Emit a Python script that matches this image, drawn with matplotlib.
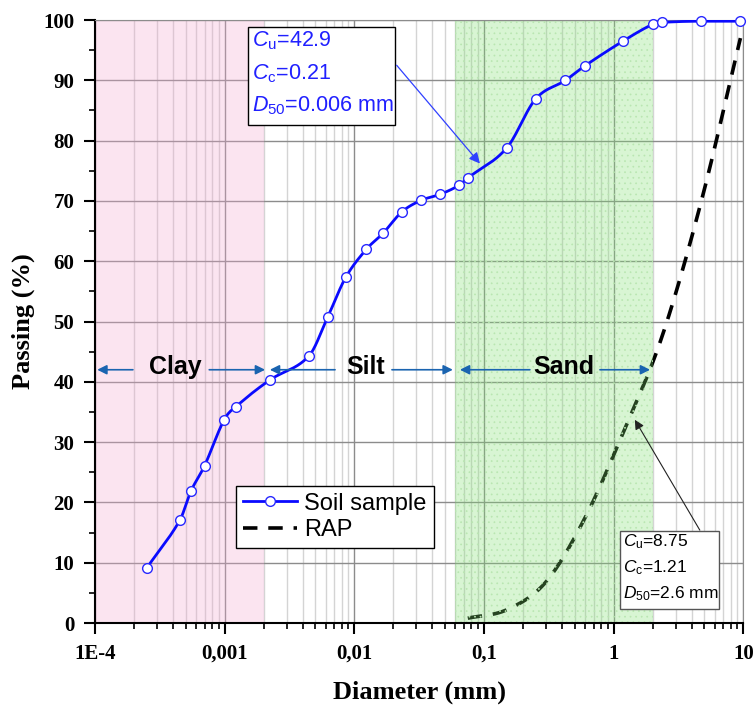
import numpy as np
import matplotlib.pyplot as plt
from matplotlib.patches import Rectangle

# ---- grain size data ----
soil_d = [0.00025, 0.00045, 0.00055, 0.0007, 0.00099, 0.00122, 0.00223, 0.00447,
          0.00622, 0.00857, 0.0124, 0.0166, 0.0233, 0.0328, 0.046, 0.0644, 0.075,
          0.15, 0.25, 0.425, 0.6, 1.18, 2.0, 2.36, 4.75, 9.5]
soil_p = [9.1, 17.0, 21.9, 26.1, 33.7, 35.9, 40.3, 44.3, 50.7, 57.3, 62.0, 64.6,
          68.2, 70.1, 71.1, 72.6, 73.8, 78.8, 86.9, 90.0, 92.4, 96.5, 99.3, 99.6,
          99.8, 99.8]

rap_d = [0.075, 0.15, 0.3, 0.6, 1.18, 2.36, 4.75, 9.5]
rap_p = [0.8, 2.2, 6.8, 17.4, 31.5, 47.5, 70.0, 97.0]

# soil class limits (mm)
clay_lim = (1e-4, 0.002)
sand_lim = (0.06, 2.0)

xtick_vals = [1e-4, 1e-3, 1e-2, 1e-1, 1, 10]
xtick_labels = ['1E-4', '0,001', '0,01', '0,1', '1', '10']

soil_txt = [r'$C_\mathrm{u}$=42.9', r'$C_\mathrm{c}$=0.21', r'$D_{50}$=0.006 mm']
rap_txt = [r'$C_\mathrm{u}$=8.75', r'$C_\mathrm{c}$=1.21', r'$D_{50}$=2.6 mm']

plt.rcParams['font.family'] = ['Liberation Sans', 'DejaVu Sans']
plt.rcParams['mathtext.fontset'] = 'custom'
plt.rcParams['mathtext.rm'] = 'Liberation Sans'
plt.rcParams['mathtext.it'] = 'Liberation Sans:italic'
plt.rcParams['hatch.linewidth'] = 0.5


def hermite(x, y, xn):
    """cubic hermite curve with finite-difference slopes (on log10 diameter)"""
    x = np.asarray(x, float); y = np.asarray(y, float)
    h = np.diff(x); d = np.diff(y) / h
    m = np.empty_like(y)
    m[1:-1] = (y[2:] - y[:-2]) / (x[2:] - x[:-2])
    m[0] = d[0]; m[-1] = d[-1]
    # keep slopes within monotone limits
    for k in range(len(d)):
        if d[k] == 0:
            m[k] = m[k + 1] = 0
        else:
            a, b = m[k] / d[k], m[k + 1] / d[k]
            s = a * a + b * b
            if s > 9:
                t = 3 / np.sqrt(s)
                m[k] = t * a * d[k]; m[k + 1] = t * b * d[k]
    idx = np.clip(np.searchsorted(x, xn) - 1, 0, len(x) - 2)
    t = (xn - x[idx]) / h[idx]
    h00 = 2 * t**3 - 3 * t**2 + 1
    h10 = t**3 - 2 * t**2 + t
    h01 = -2 * t**3 + 3 * t**2
    h11 = t**3 - t**2
    return (h00 * y[idx] + h10 * h[idx] * m[idx] + h01 * y[idx + 1]
            + h11 * h[idx] * m[idx + 1])


def smooth(d, p):
    lx = np.log10(d)
    xs = np.linspace(lx[0], lx[-1], 800)
    return 10**xs, hermite(lx, p, xs)


fig = plt.figure(figsize=(7.56, 7.07), dpi=100)
ax = fig.add_axes([0.1257, 0.1188, 0.8575, 0.8529])

ax.set_xscale('log')
ax.set_xlim(1e-4, 10)
ax.set_ylim(0, 100)

# grid
ax.grid(True, which='major', axis='both', color='#8c8c8c', lw=1.0, zorder=0)
ax.grid(True, which='minor', axis='x', color='#d4d4d4', lw=1.0, zorder=0)
ax.set_axisbelow(True)

# soil class bands
ax.axvspan(*clay_lim, facecolor='#f2a6cf', alpha=0.3, lw=0, zorder=1)
sx, sy = smooth(rap_d, rap_p)
ax.plot(sx, sy, color='black', lw=2.6, ls=(0, (4, 3)), zorder=1.2)
ax.axvspan(*sand_lim, facecolor='#7ee070', alpha=0.3, lw=0, zorder=1.5)
ax.axvspan(*sand_lim, facecolor='none', edgecolor='#b9e6b1', hatch='...',
           lw=0, zorder=1.6)

# soil sample
sx, sy = smooth(soil_d, soil_p)
ax.plot(sx, sy, color='#0a0aff', lw=2.0, zorder=3)
ax.plot(soil_d, soil_p, ls='none', marker='o', ms=7, mfc='white', mec='#2828ff',
        mew=1.0, zorder=4, clip_on=False)
h_soil, = ax.plot([], [], color='#0a0aff', lw=2.0, marker='o', ms=7, mfc='white',
                  mec='#2828ff', mew=1.0)
h_rap, = ax.plot([], [], color='black', lw=2.6, ls=(0, (4, 3)))

# axes styling
for s in ['top', 'right']:
    ax.spines[s].set_color('#8c8c8c')
for s in ['left', 'bottom']:
    ax.spines[s].set_linewidth(1.5)
ax.set_xticks(xtick_vals)
ax.set_xticklabels(xtick_labels)
ax.set_yticks(np.arange(0, 101, 10))
ax.set_yticks(np.arange(5, 100, 10), minor=True)
ax.tick_params(which='major', direction='out', length=8, width=1.5, pad=7,
               labelsize=15, top=False, right=False)
ax.tick_params(which='minor', direction='out', length=4.5, width=1.2,
               top=False, right=False)
for lab in ax.get_xticklabels() + ax.get_yticklabels():
    lab.set_family('Liberation Serif')
    lab.set_fontweight('bold')

ax.set_xlabel('Diameter (mm)', family='Liberation Serif', fontweight='bold',
              fontsize=19, labelpad=12)
ax.set_ylabel('Passing (%)', family='Liberation Serif', fontweight='bold',
              fontsize=19, labelpad=6)

# class arrows and names
arr = dict(arrowstyle='-|>', color='#1a64b0', lw=1.2, mutation_scale=14,
           shrinkA=0, shrinkB=0)
y_cls = 42
for tail, head in [(1.96e-4, 1.04e-4), (7.6e-4, 2.05e-3),
                   (7.1e-3, 2.23e-3), (0.0195, 0.0575),
                   (0.226, 0.0652), (0.784, 1.91)]:
    ax.annotate('', xy=(head, y_cls), xytext=(tail, y_cls), arrowprops=arr, zorder=5)
for name, xc in [('Clay', 4.14e-4), ('Silt', 0.01225), ('Sand', 0.413)]:
    ax.text(xc, y_cls + 0.5, name, fontsize=18, fontweight='bold', ha='center',
            va='center', zorder=5)

# parameter boxes
ax.add_patch(Rectangle((0.2355, 0.8254), 0.2268, 0.1625, transform=ax.transAxes,
                       facecolor='white', edgecolor='black', lw=1.0, zorder=6))
for txt, yb in zip(soil_txt, [0.9557, 0.9016, 0.848]):
    ax.text(0.2417, yb, txt, transform=ax.transAxes, fontsize=15.5,
            color='#2020ff', va='baseline', ha='left', zorder=7)
ax.annotate('', xy=(0.093, 76.2), xytext=(0.0212, 92.5),
            arrowprops=dict(arrowstyle='-|>', color='#3040ff', lw=0.9,
                            mutation_scale=16, shrinkA=0, shrinkB=0), zorder=6)

ax.add_patch(Rectangle((0.8098, 0.0227), 0.1532, 0.1304, transform=ax.transAxes,
                       facecolor='white', edgecolor='#555555', lw=1.0, zorder=6))
for txt, yb in zip(rap_txt, [0.1265, 0.0841, 0.041]):
    ax.text(0.815, yb, txt, transform=ax.transAxes, fontsize=12.5,
            color='black', va='baseline', ha='left', zorder=7)
ax.annotate('', xy=(1.457, 33.7), xytext=(4.62, 15.4),
            arrowprops=dict(arrowstyle='-|>', color='#222222', lw=0.8,
                            mutation_scale=14, shrinkA=0, shrinkB=0), zorder=6)

leg = ax.legend([h_soil, h_rap], ['Soil sample', 'RAP'], loc='upper left',
                bbox_to_anchor=(0.217, 0.228), borderaxespad=0, fontsize=17,
                frameon=True, fancybox=False, framealpha=1, edgecolor='black',
                handlelength=2.3, handletextpad=0.3, borderpad=0.3,
                labelspacing=0.2)
leg.get_frame().set_linewidth(1.0)
leg.set_zorder(8)

fig.savefig('out.png', dpi=100)
